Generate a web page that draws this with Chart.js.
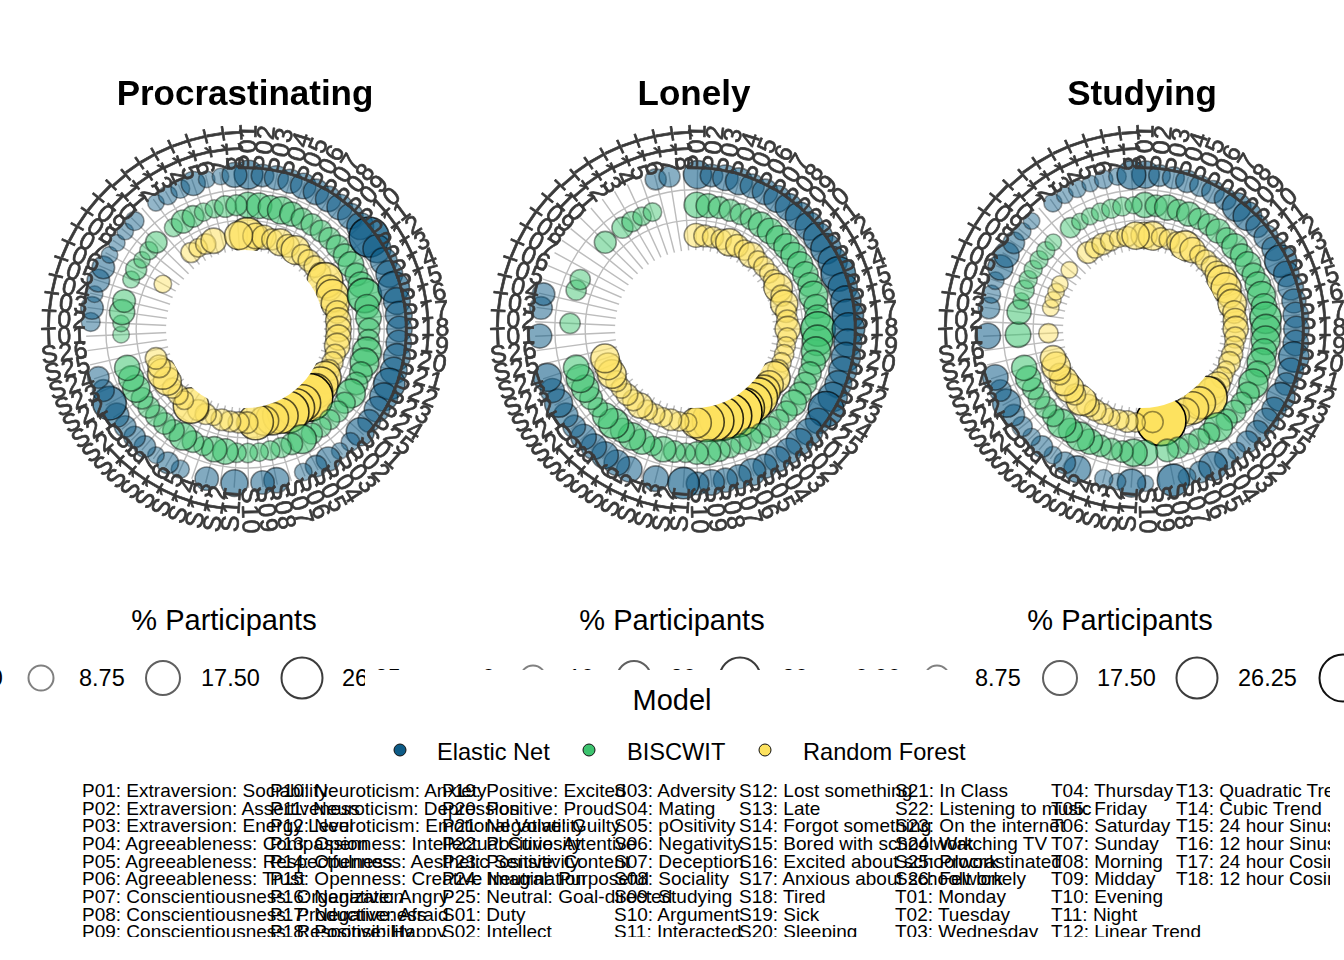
<!DOCTYPE html>
<html><head><meta charset="utf-8">
<script src="https://cdn.jsdelivr.net/npm/chart.js@4"></script>
<style>
html,body{margin:0;padding:0;background:#fff;overflow:hidden;width:1344px;height:960px;font-family:"Liberation Sans",Arial,sans-serif;color:#000}
canvas{position:absolute;top:0}
.t{position:absolute;white-space:nowrap;line-height:1;transform:translateY(-50%)}
.c{transform:translate(-50%,-50%)}
.ring{position:absolute;border-radius:50%;box-sizing:border-box;transform:translate(-50%,-50%);background:#fff}
#mask{position:absolute;left:365px;top:670px;width:610px;height:100px;background:#fff;z-index:3}
#key{position:absolute;left:0;top:780px;width:1330px;height:157px;overflow:hidden;z-index:4}
#key div{position:absolute;white-space:nowrap;font-size:19px;line-height:17.6px}
.z{z-index:5}
</style></head><body>
<div id="legends"></div><div id="mask"></div><div id="key"></div>
<script>
const categories=["P01","P02","P03","P04","P05","P06","P07","P08","P09","P10","P11","P12","P13","P14","P15","P16","P17","P18","P19","P20","P21","P22","P23","P24","P25",
"S01","S02","S03","S04","S05","S06","S07","S08","S09","S10","S11","S12","S13","S14","S15","S16","S17","S18","S19","S20","S21","S22","S23","S24","S25","S26",
"T01","T02","T03","T04","T05","T06","T07","T08","T09","T10","T11","T12","T13","T14","T15","T16","T17","T18"];
const models=["Elastic Net","BISCWIT","Random Forest"];
const titles=["Procrastinating","Lonely","Studying"];

const procEN=[8.5,4,5,5,6,6,6,6,6,7, 20,8,7,7,11,7,7,6,6,7, 7,11,8,6,4,8,1.5,.5,5,3.3, 1,null,5.8,4.5,null,7,null,4.5,null,1.3, 3.3,.5,3.3,3.3,3.3,5,13,3.5,3.3,null, null,null,1.7,4,.5,4,4,.5,.5,.5, 1.7,null,.5,1.7,1.7,5,.5,.5,5.5];
const procBW=[6,6,5,7.4,5,3.3,3.3,3.3,3.3,4, 4,6,4,6,13.7,5,6,3.3,3.3,8.5, 8.5,4,4,8.5,3,3,2.4,2.4,3,8.5, 3.3,2.4,2,1.5,2,2,6,5.8,2,3.3, 7.4,3.3,3.3,3.3,3.3,3.3,7.4,5.8,5.8,null, null,.5,.5,5.8,4,null,.7,3,.4,1.3, 3.3,null,1.3,4.3,3.3,1.3,1.3,3.3,3];
const procRF=[15,6,5,3,7,4,8.5,3,3.3,3.3, 3,15,6,11.7,8,4,5.8,5.8,5.8,5.8, 2.4,3,3,11.7,15,15,30,16,18,22, 15,12,9,15,3.3,3,3,3.3,.5,3, 3,15,1.5,2.4,2.4,8,10,4,3.3,null, null,null,null,null,null,null,null,1,null,null, null,null,2.4,1.5,2.5,5.8,null,null,8];

const loneEN=[8,4,6,7,5,6,7,7,8,8, 9,10,9,14,9,10,11,12,8,9, 8,7,9,15,6,7,7,6,6,5, 7,5,5,6,4,11,null,6,null,6, 6,7,6,6,4,5,8,5,8,null, null,5,null,4,4,null,null,null,null,null, null,null,null,null,null,null,3,3,null];
const loneBW=[6,5,3.5,3.5,3,3.3,5.5,6,5.8,6, 6,6,6,5,8.5,5,6,14,10,9, 5,4,4,4,6,3,2.5,3,2.5,4.3, 2.5,2.5,3.5,6,4,2,3.3,5.8,2,5.8, 7.4,5,9.7,6,2,4,7.4,8,6,null, null,null,2.5,null,null,2.5,2.5,null,null,null, 3.5,null,3,2.5,1.5,1.5,null,null,null];
const loneRF=[4.8,3.3,3,2.5,7.4,4,2.5,5.8,2,2.4, 2,3,8.5,3,7.4,3,3,5.8,2,1.5, 2,2,3,11.7,8,12,19,21,20,33, 26,25,22,19,10,1.5,2,3.3,2,2.4, 2.4,5.8,3,3.3,2.4,3,8.5,7,8.5,null, null,null,null,null,null,null,null,null,null,null, null,null,null,null,null,null,null,null,null];

const studEN=[7.4,3.3,3.5,4,3,4,3.5,8.5,8.5,4, 5,5,11.7,6,6,5,6,6,6,10, 6,4,8.5,5,5.8,4,3.5,.9,3.3,8.5, 3.3,1,11.7,null,.3,8,.5,1.3,null,7, 3.3,1,3.3,1,2.4,3.3,8,3.3,6,null, null,6,null,3.3,1.3,1,5.8,5.8,3.3,1, .5,null,1.3,.5,1,.5,1.5,1,8.5];
const studBW=[5.8,3.3,5.8,3.3,5,3,3.3,5,3,6, 4,6,4,6,8,6,11,9,8.5,6, 8.5,5,9,4,3,4,3,8.5,3.3,3, 2.5,3,4,null,6,7.4,3.3,3.3,3.3,5.8, 8.5,5,8.5,3.3,3.3,3.3,3.3,5.8,5.8,null, null,6,null,5,.5,2.4,1.3,1.3,1.3,1.3, .5,null,2.4,.5,.7,1.3,1.8,1.8,.7];
const studRF=[6.5,8.5,2,2.5,3,9.7,5.8,2,3,3, 5,9.7,9.7,5,8.5,4,5,5.8,3,2, 3,3.3,1.3,3,6,8,23,11.7,11.7,8, 5,10,33,3,null,2,3.3,2.4,1.5,3, 3.3,4,9.7,3,8.5,8.5,3.3,8.5,6,null, null,2,null,null,.5,.3,.5,.5,null,.5, null,null,3.3,2.4,3.3,2.4,1.5,2.4,7.4];

const panelSeries=[[procEN,procBW,procRF],[loneEN,loneBW,loneRF],[studEN,studBW,studRF]];
const levels=[3,2,1];
const gridLevels=[1.5,2.5];
const colors=[[13,91,134],[60,195,110],[253,226,95]];
const keyColumns=[
["P01: Extraversion: Sociability","P02: Extraversion: Assertiveness","P03: Extraversion: Energy Level","P04: Agreeableness: Compassion","P05: Agreeableness: Respectfulness","P06: Agreeableness: Trust","P07: Conscientiousness: Organization","P08: Conscientiousness: Productiveness","P09: Conscientiousness: Responsibility"],
["P10: Neuroticism: Anxiety","P11: Neuroticism: Depression","P12: Neuroticism: Emotional Volatility","P13: Openness: Intellectual Curiosity","P14: Openness: Aesthetic Sensitivity","P15: Openness: Creative Imagination","P16: Negative: Angry","P17: Negative: Afraid","P18: Positive: Happy"],
["P19: Positive: Excited","P20: Positive: Proud","P21: Negative: Guilty","P22: Positive: Attentive","P23: Positive: Content","P24: Neutral: Purposeful","P25: Neutral: Goal-directed","S01: Duty","S02: Intellect"],
["S03: Adversity","S04: Mating","S05: pOsitivity","S06: Negativity","S07: Deception","S08: Sociality","S09: Studying","S10: Argument","S11: Interacted"],
["S12: Lost something","S13: Late","S14: Forgot something","S15: Bored with schoolwork","S16: Excited about schoolwork","S17: Anxious about schoolwork","S18: Tired","S19: Sick","S20: Sleeping"],
["S21: In Class","S22: Listening to music","S23: On the internet","S24: Watching TV","S25: Procrastinated","S26: Felt lonely","T01: Monday","T02: Tuesday","T03: Wednesday"],
["T04: Thursday","T05: Friday","T06: Saturday","T07: Sunday","T08: Morning","T09: Midday","T10: Evening","T11: Night","T12: Linear Trend"],
["T13: Quadratic Trend","T14: Cubic Trend","T15: 24 hour Sinusoidal","T16: 12 hour Sinusoidal","T17: 24 hour Cosine","T18: 12 hour Cosine"]];

const pct2r=v=>Math.sqrt(60+17*v);
const pct2a=v=>Math.min(1,0.44+0.56*v/33);
const pct2b=v=>Math.min(1,0.35+0.65*v/33);
const rgba=(c,a)=>`rgba(${c[0]},${c[1]},${c[2]},${a})`;

const polarText={id:'polarText',
 afterDatasetsDraw(chart){
  const s=chart.scales.r,ctx=chart.ctx;
  ctx.save();
  ctx.fillStyle='#fff';ctx.beginPath();ctx.arc(s.xCenter,s.yCenter,79,0,Math.PI*2);ctx.fill();
  ctx.fillStyle='#3a3a3a';ctx.strokeStyle='#3a3a3a';ctx.lineWidth=0.7;ctx.lineJoin='round';
  ctx.font='25px "Liberation Sans"';ctx.letterSpacing='1px';ctx.textBaseline='middle';
  categories.forEach((lab,i)=>{
   const p=s.getPointPosition(i,158);
   const left=Math.sin(p.angle+Math.PI/2)<0;
   ctx.save();ctx.translate(p.x,p.y);
   ctx.rotate(left?p.angle+Math.PI:p.angle);
   ctx.textAlign=left?'right':'left';
   ctx.fillText(lab,0,0);ctx.strokeText(lab,0,0);
   ctx.restore();
  });
  ctx.restore();
 }};

const lefts=[21,470,918];
panelSeries.forEach((series,pi)=>{
 const cv=document.createElement('canvas');
 cv.width=448;cv.height=658;cv.style.left=lefts[pi]+'px';cv.style.width='448px';cv.style.height='658px';
 document.body.appendChild(cv);
 new Chart(cv,{type:'radar',plugins:[polarText],
  data:{labels:categories,datasets:series.map((vals,mi)=>({
   label:models[mi],
   data:vals.map(v=>v===null?null:levels[mi]),
   showLine:false,fill:false,clip:false,
   pointRadius:vals.map(v=>v===null?0:pct2r(v)),
   pointBackgroundColor:vals.map(v=>rgba(colors[mi],v===null?0:pct2a(v))),
   pointBorderColor:vals.map(v=>`rgba(0,0,0,${v===null?0:pct2b(v)})`),
   pointBorderWidth:1.6
  }))},
  options:{responsive:false,animation:false,devicePixelRatio:1,
   layout:{padding:{top:74,bottom:169,left:64,right:64}},
   plugins:{legend:{display:false},tooltip:{enabled:false},
    title:{display:true,text:titles[pi],color:'#000',font:{family:'"Liberation Sans"',size:35,weight:'bold'},padding:{top:0,bottom:53.4}}},
   scales:{r:{min:-2.082,max:3.15,startAngle:1.3,
    afterBuildTicks:s=>{s.ticks=gridLevels.map(v=>({value:v}));},
    ticks:{display:false},pointLabels:{display:false},
    grid:{circular:true,color:'#bcbcbc',lineWidth:1.4},
    angleLines:{display:true,color:'#bcbcbc',lineWidth:1.4}}}}
 });
});

/* legends */
const L=document.getElementById('legends');
function txt(s,x,y,size,center){const d=document.createElement('div');d.className='t'+(center?' c':'');d.textContent=s;d.style.left=x+'px';d.style.top=y+'px';d.style.fontSize=size+'px';L.appendChild(d);return d;}
function ring(x,y,r,col){const d=document.createElement('div');d.className='ring';d.style.cssText+=`left:${x}px;top:${y}px;width:${2*r}px;height:${2*r}px;border:2px solid ${col}`;L.appendChild(d);}
[224,672,1120].forEach(x=>txt('% Participants',x,620,29,true));
const legendLabels=[["0.00","8.75","17.50","26.25"],["0","10","20","30"],["0.00","8.75","17.50","26.25","35.00"]];
const labelX=[[-43,79,201,342],[482,568,670,782],[855,975,1097,1238,1380]];
const ringX=[[41,163,302],[533,634,740],[937,1060,1197,1343]];
const ringR=[13.5,18,21.5,24.5];
const ringC=['#808080','#606060','#3c3c3c','#111'];
legendLabels.forEach((a,p)=>a.forEach((s,i)=>txt(s,labelX[p][i],679,23.5,false)));
ringX.forEach(a=>a.forEach((x,i)=>ring(x,678,ringR[i],ringC[i])));
const m=document.createElement('div');m.className='t c z';m.textContent='Model';m.style.cssText+='left:672px;top:700px;font-size:29px';document.body.appendChild(m);
const dotX=[400,589,765],labX=[437,627,803];
models.forEach((s,i)=>{
 const d=document.createElement('div');d.className='ring z';
 d.style.cssText+=`left:${dotX[i]}px;top:750px;width:13px;height:13px;border:1.6px solid #111;background:${rgba(colors[i],1)}`;
 document.body.appendChild(d);
 const t=document.createElement('div');t.className='t z';t.textContent=s;t.style.cssText+=`left:${labX[i]}px;top:753px;font-size:23.6px`;document.body.appendChild(t);
});
/* key */
const K=document.getElementById('key');
const keyX=[82,270,442,614,739,895,1051,1176];
keyColumns.forEach((col,c)=>col.forEach((s,i)=>{const d=document.createElement('div');d.textContent=s;d.style.left=keyX[c]+'px';d.style.top=(2+i*17.65)+'px';K.appendChild(d);}));
</script>
</body></html>
